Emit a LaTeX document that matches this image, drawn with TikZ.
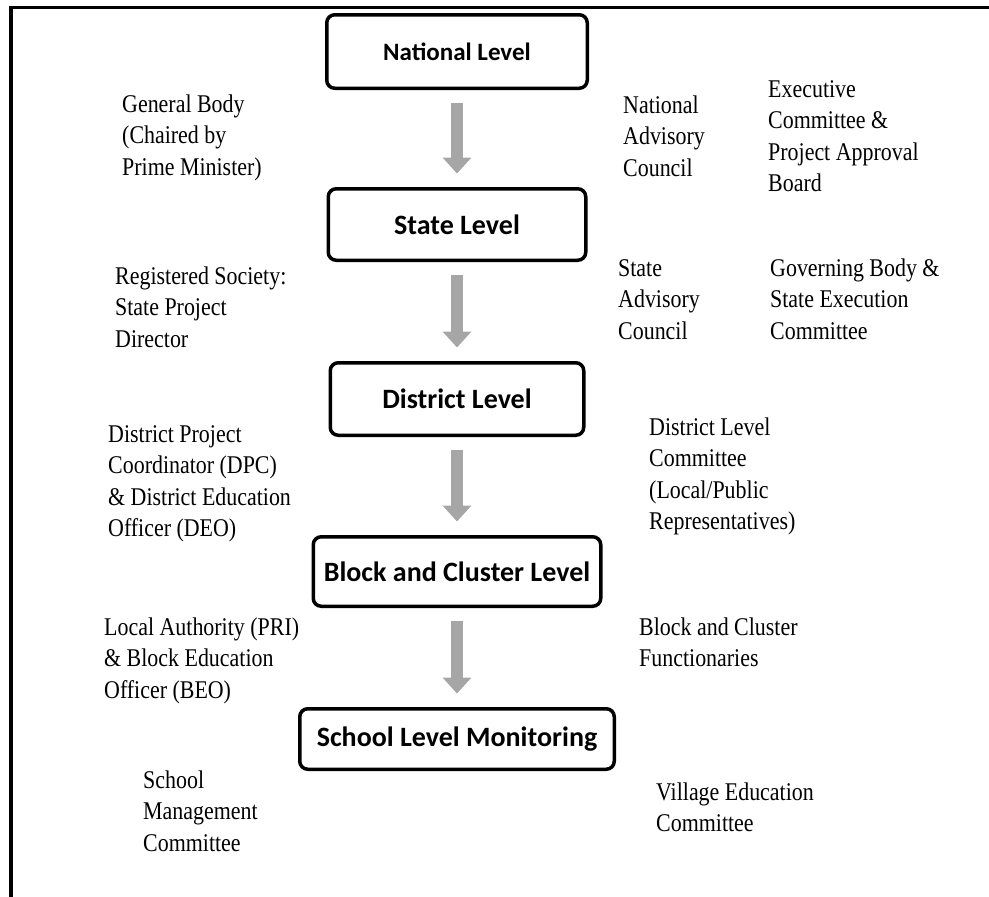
\documentclass[tikz,border=0pt]{standalone}
\usepackage{fontspec}
\setmainfont{Liberation Serif}[FakeStretch=0.86]
\newfontfamily\boxfont{Carlito}
\usetikzlibrary{arrows.meta}
\definecolor{flowgray}{RGB}{166,166,166}
% stacked lines of a side label; the node's base is the first line's baseline
\newcommand\notelines[1]{\begin{tabular}[t]{@{}l@{}}#1\end{tabular}}

\begin{document}
\begin{tikzpicture}[x=1pt,y=-1pt,
  level/.style={draw=black, line width=3.5pt, rounded corners=8pt, inner sep=0pt,
    fill=white, font=\boxfont\bfseries\fontsize{28}{34}\selectfont},
  note/.style={anchor=base west, inner sep=0pt,
    font=\fontsize{25.5}{31.5}\selectfont},
  flow/.style={draw=flowgray, line width=12pt,
    -{Triangle[width=28pt,length=16pt]},
    shorten <=12.5pt, shorten >=13.5pt}]
\useasboundingbox (0,0) rectangle (989,897);

% frame
\draw[line width=3.5pt] (11,897) -- (11,7.5) -- (989,7.5);

% levels
\node[level, minimum width=260.5pt, minimum height=73.5pt,
  font=\boxfont\bfseries\fontsize{25}{30}\selectfont] (nat) at (457,51.5) {National Level};
\node[level, minimum width=257.5pt, minimum height=71.5pt] (sta) at (457,224.5) {State Level};
\node[level, minimum width=253.5pt, minimum height=72.5pt] (dis) at (457,399) {District Level};
\node[level, minimum width=287.5pt, minimum height=69.5pt] (blk) at (457,571.5) {Block and Cluster Level};
\node[level, minimum width=314.5pt, minimum height=60.5pt] (sch) at (457,739) {School Level Monitoring};

% flow between levels
\draw[flow] (nat) -- (sta);
\draw[flow] (sta) -- (dis);
\draw[flow] (dis) -- (blk);
\draw[flow] (blk) -- (sch);

% national level bodies
\node[note] (gb) at (122,112) {\notelines{General Body\\(Chaired by\\Prime Minister)}};
\node[note] (nac) at (623,113) {\notelines{National\\Advisory\\Council}};
\node[note] (ecb) at (768,97) {\notelines{Executive\\Committee \&\\Project Approval\\Board}};

% state level bodies
\node[note] (rsd) at (115,284) {\notelines{Registered Society:\\State Project\\Director}};
\node[note] (sac) at (618,276) {\notelines{State\\Advisory\\Council}};
\node[note] (gbs) at (770,276) {\notelines{Governing Body \&\\State Execution\\Committee}};

% district level bodies
\node[note] (dpc) at (108,442) {\notelines{District Project\\Coordinator (DPC)\\\& District Education\\Officer (DEO)}};
\node[note] (dlc) at (649,435) {\notelines{District Level\\Committee\\(Local/Public\\Representatives)}};

% block and cluster level bodies
\node[note] (lab) at (104,635) {\notelines{Local Authority (PRI)\\\& Block Education\\Officer (BEO)}};
\node[note] (bcf) at (639,635) {\notelines{Block and Cluster\\Functionaries}};

% school level bodies
\node[note] (smc) at (143,788) {\notelines{School\\Management\\Committee}};
\node[note] (vec) at (656,800) {\notelines{Village Education\\Committee}};
\end{tikzpicture}
\end{document}
